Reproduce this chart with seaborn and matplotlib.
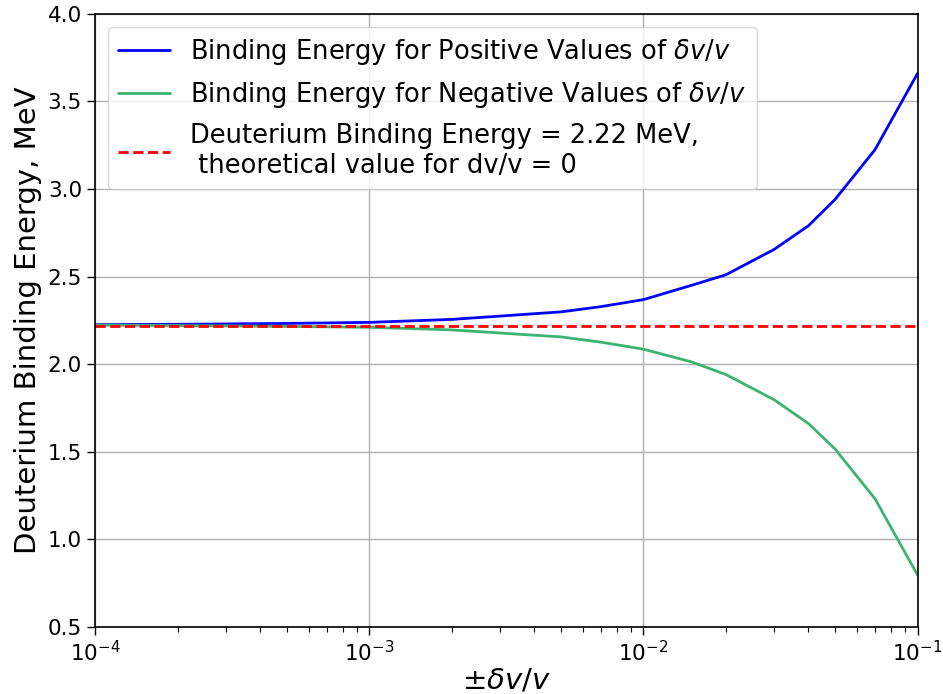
import numpy as np
import pandas as pd
import matplotlib
matplotlib.use("Agg")
import matplotlib.pyplot as plt
import seaborn as sns

# relative shift dv/v (same magnitudes for both signs)
dv_over_v = [1e-4, 2e-4, 5e-4, 1e-3, 2e-3, 5e-3, 7e-3, 1e-2, 1.5e-2, 2e-2, 3e-2, 4e-2, 5e-2, 7e-2, 1e-1]
# binding energies, MeV
energy_positive = [2.225, 2.227, 2.232, 2.238, 2.255, 2.298, 2.328, 2.368, 2.45, 2.51, 2.655, 2.79, 2.94, 3.225, 3.66]
energy_negative = [2.222, 2.22, 2.215, 2.21, 2.195, 2.155, 2.125, 2.085, 2.012, 1.94, 1.796, 1.66, 1.515, 1.23, 0.795]
deuterium_be = 2.22

sns.set_style("whitegrid", {
    "axes.edgecolor": "black",
    "grid.color": "#b0b0b0",
    "text.color": "black",
    "axes.labelcolor": "black",
    "xtick.color": "black",
    "ytick.color": "black",
    "xtick.bottom": True,
    "ytick.left": True,
})
plt.rcParams["font.family"] = ["DejaVu Sans"]
plt.rcParams["xtick.direction"] = "out"
plt.rcParams["ytick.direction"] = "out"

df = pd.DataFrame({"dv": dv_over_v, "pos": energy_positive, "neg": energy_negative})

fig, ax = plt.subplots(figsize=(9.43, 6.94), dpi=100)
sns.lineplot(data=df, x="dv", y="pos", ax=ax, color="blue", linewidth=2,
             label=r"Binding Energy for Positive Values of $\delta v/v$")
sns.lineplot(data=df, x="dv", y="neg", ax=ax, color="mediumseagreen", linewidth=2,
             label=r"Binding Energy for Negative Values of $\delta v/v$")
ax.axhline(deuterium_be, color="red", linestyle="--", linewidth=2,
           label="Deuterium Binding Energy = 2.22 MeV,\n theoretical value for dv/v = 0")

ax.set_xscale("log")
ax.set_xlim(1e-4, 1e-1)
ax.set_ylim(0.5, 4.0)
ax.set_yticks(np.arange(0.5, 4.01, 0.5))
ax.grid(True, which="major", linewidth=1)
ax.grid(False, which="minor")
ax.tick_params(axis="both", which="major", labelsize=15.5, length=6, width=1, color="black",
               labelcolor="black")
ax.tick_params(axis="x", which="minor", length=3.5, width=0.8, color="black", bottom=True)
for sp in ax.spines.values():
    sp.set_color("black")
    sp.set_linewidth(1.2)

ax.set_xlabel(r"$\pm\delta v/v$", fontsize=21, color="black", labelpad=1)
ax.set_ylabel("Deuterium Binding Energy, MeV", fontsize=21, color="black")
leg = ax.legend(loc="upper left", fontsize=18.5, frameon=True, framealpha=0.8)
for t in leg.get_texts():
    t.set_color("black")

fig.subplots_adjust(left=0.101, right=0.973, top=0.98, bottom=0.097)
fig.savefig("out.png", dpi=100)
